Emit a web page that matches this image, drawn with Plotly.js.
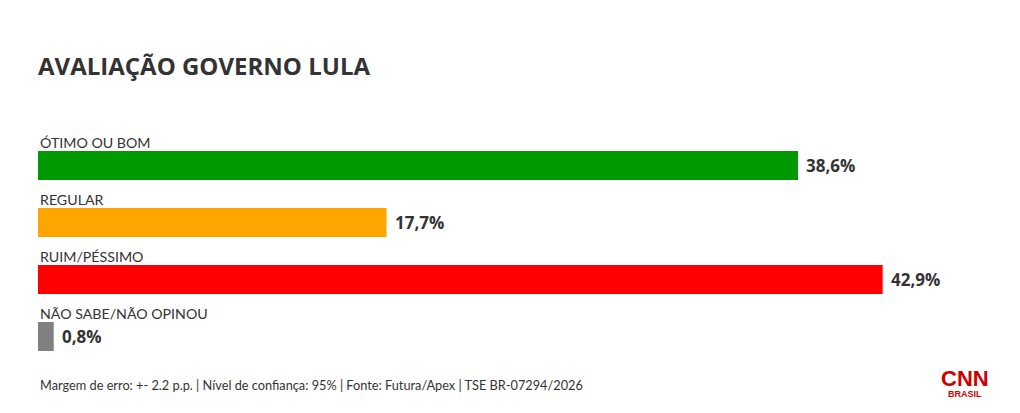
<!DOCTYPE html>
<html>
<head>
<meta charset="utf-8">
<script src="https://cdn.plot.ly/plotly-3.0.1.min.js"></script>
<style>html,body{margin:0;padding:0;background:#fff;}#chart{width:1020px;height:413px;}</style>
</head>
<body>
<div id="chart"></div>
<script>
const categories = ["ÓTIMO OU BOM", "REGULAR", "RUIM/PÉSSIMO", "NÃO SABE/NÃO OPINOU"];
const values = [38.6, 17.7, 42.9, 0.8];
const valueLabels = ["38,6%", "17,7%", "42,9%", "0,8%"];
const titleText = "AVALIAÇÃO GOVERNO LULA";
const footerText = "Margem de erro: +- 2.2 p.p. | Nível de confiança: 95% | Fonte: Futura/Apex | TSE BR-07294/2026";

const barColors = ["#009a00", "#ffa500", "#ff0000", "#808080"];
const textColor = "#333333";
const pxPerUnit = 760 / 38.6;
const plotWidth = 1020 - 38;

const annotations = [];
categories.forEach((c, i) => {
  annotations.push({
    xref: "x", yref: "y", x: 0, y: c, xanchor: "left", yanchor: "middle",
    yshift: 23.5, text: c, showarrow: false,
    font: {family: "Lato, 'Noto Sans', sans-serif", size: 14.2, color: textColor}
  });
  annotations.push({
    xref: "x", yref: "y", x: values[i], y: c, xanchor: "left", yanchor: "middle",
    xshift: 6, text: "<b>" + valueLabels[i] + "</b>", showarrow: false,
    font: {family: "'Open Sans', sans-serif", size: 17, color: textColor}
  });
});
annotations.push({
  xref: "paper", yref: "paper", x: 0, y: 0, xanchor: "left", yanchor: "middle",
  yshift: -20, text: footerText, showarrow: false,
  font: {family: "Lato, 'Noto Sans', sans-serif", size: 12.75, color: textColor}
});
annotations.push({
  xref: "paper", yref: "paper", x: (965 - 38) / plotWidth, y: 0, xanchor: "center", yanchor: "middle",
  yshift: -13, text: "<b>CNN</b>", showarrow: false,
  font: {family: "'Liberation Sans', Arial, sans-serif", size: 22, color: "#cc0000"}
});
annotations.push({
  xref: "paper", yref: "paper", x: (965 - 38) / plotWidth, y: 0, xanchor: "center", yanchor: "middle",
  yshift: -29, text: "<b>BRASIL</b>", showarrow: false,
  font: {family: "'Liberation Sans', Arial, sans-serif", size: 9, color: "#cc0000"}
});

const data = [{
  type: "bar", orientation: "h", x: values, y: categories,
  marker: {color: barColors}, width: 29 / 57, hoverinfo: "none"
}];

const layout = {
  width: 1020, height: 413,
  margin: {l: 38, r: 0, t: 137, b: 48},
  paper_bgcolor: "#ffffff", plot_bgcolor: "#ffffff",
  showlegend: false,
  title: {
    text: "<b>" + titleText + "</b>", x: 38 / 1020, xanchor: "left", xref: "container",
    y: 1 - 67 / 413, yanchor: "middle", yref: "container",
    font: {family: "'Open Sans', sans-serif", size: 24, color: textColor}
  },
  xaxis: {range: [0, plotWidth / pxPerUnit], visible: false, fixedrange: true},
  yaxis: {type: "category", categoryorder: "array", categoryarray: categories,
    range: [3.5, -0.5], visible: false, fixedrange: true},
  annotations: annotations
};

Plotly.newPlot("chart", data, layout, {displayModeBar: false, staticPlot: true});
</script>
</body>
</html>
